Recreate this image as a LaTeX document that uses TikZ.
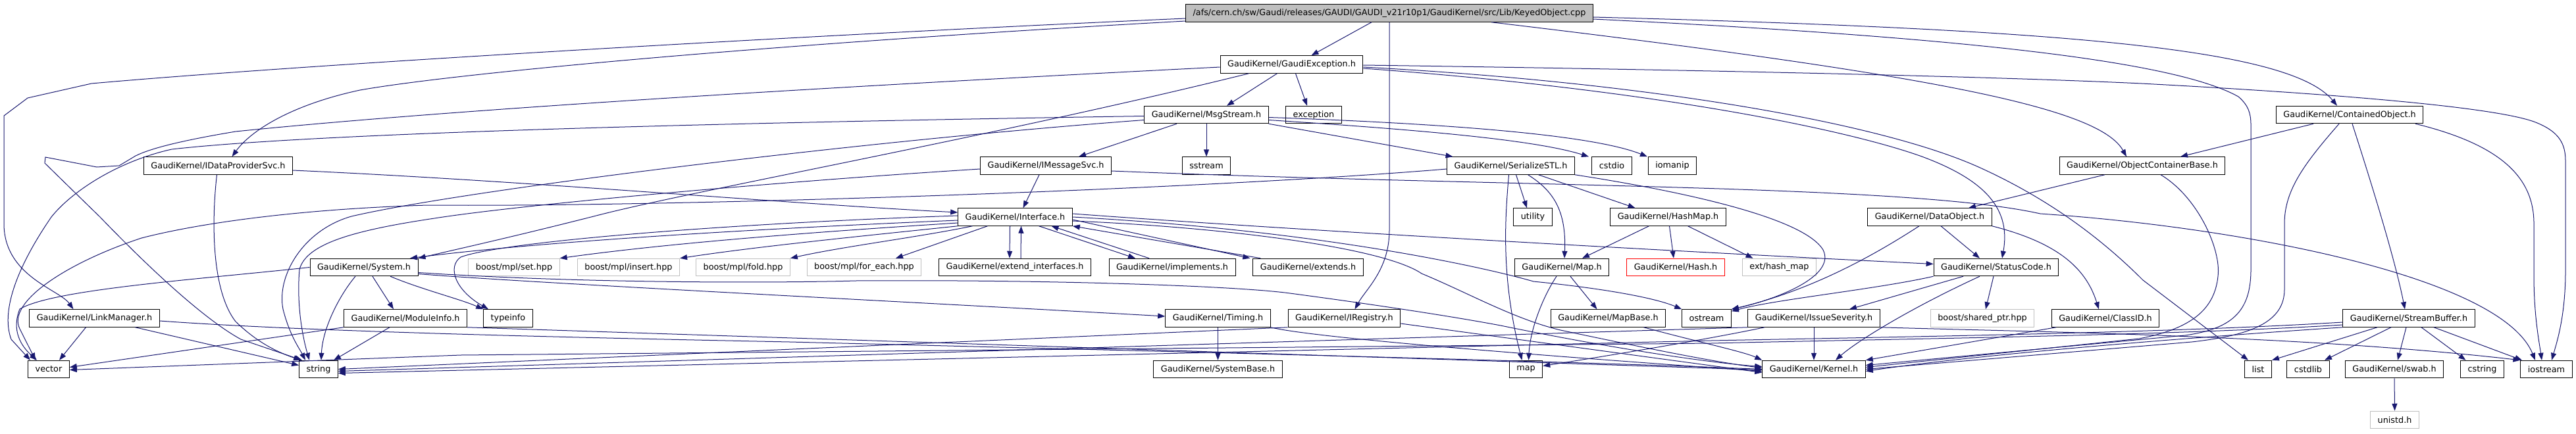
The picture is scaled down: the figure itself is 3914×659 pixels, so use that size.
\documentclass[tikz,border=0pt]{standalone}
\usepackage{fontspec}
\newfontfamily\gfont{DejaVu Sans}
\usetikzlibrary{arrows.meta}
\definecolor{edgec}{HTML}{191970}
\definecolor{grayb}{HTML}{BFBFBF}
\begin{document}
\begin{tikzpicture}[x=1pt,y=-1pt,
  box/.style={draw=black,line width=1pt,fill=white,minimum height=26.5pt,inner xsep=11pt,inner ysep=0pt,font=\gfont\fontsize{12.8}{15}\selectfont},
  ext/.style={box,draw=grayb},
  miss/.style={box,draw=red},
  rootbox/.style={box,fill=grayb},
  conn/.style={draw=edgec,line width=1pt,-{Triangle[length=11pt,width=8pt]}}]
\useasboundingbox (0,0) rectangle (3914,659);
% row A
\node[rootbox] (root) at (2111,20) {/afs/cern.ch/sw/Gaudi/releases/GAUDI/GAUDI\_v21r10p1/GaudiKernel/src/Lib/KeyedObject.cpp};
% row B
\node[box] (gexc) at (1962.5,98) {GaudiKernel/GaudiException.h};
% row C
\node[box] (msgstream) at (1833,174.5) {GaudiKernel/MsgStream.h};
\node[box] (exception) at (1996,174.5) {exception};
\node[box] (contained) at (3570,174.5) {GaudiKernel/ContainedObject.h};
% row D
\node[box] (idp) at (331.5,252) {GaudiKernel/IDataProviderSvc.h};
\node[box] (imsg) at (1589,252) {GaudiKernel/IMessageSvc.h};
\node[box] (sstream) at (1833,252) {sstream};
\node[box] (serialize) at (2295.5,252) {GaudiKernel/SerializeSTL.h};
\node[box] (cstdio) at (2449,252) {cstdio};
\node[box] (iomanip) at (2541,252) {iomanip};
\node[box] (ocb) at (3255,252) {GaudiKernel/ObjectContainerBase.h};
% row E
\node[box] (interface) at (1542.5,330) {GaudiKernel/Interface.h};
\node[box] (utility) at (2329,330) {utility};
\node[box] (hashmap) at (2534.5,330) {GaudiKernel/HashMap.h};
\node[box] (dataobj) at (2932,330) {GaudiKernel/DataObject.h};
% row F
\node[box] (system) at (553,406.5) {GaudiKernel/System.h};
\node[ext] (mplset) at (781,406.5) {boost/mpl/set.hpp};
\node[ext] (mplinsert) at (955,406.5) {boost/mpl/insert.hpp};
\node[ext] (mplfold) at (1129,406.5) {boost/mpl/fold.hpp};
\node[ext] (mplforeach) at (1313,406.5) {boost/mpl/for\_each.hpp};
\node[box] (extif) at (1542,406.5) {GaudiKernel/extend\_interfaces.h};
\node[box] (implements) at (1781,406.5) {GaudiKernel/implements.h};
\node[box] (extends) at (1987.5,406.5) {GaudiKernel/extends.h};
\node[box] (mapH) at (2373,406.5) {GaudiKernel/Map.h};
\node[miss] (hashH) at (2546,406.5) {GaudiKernel/Hash.h};
\node[ext] (hashext) at (2703.5,406.5) {ext/hash\_map};
\node[box] (statuscode) at (3033,406.5) {GaudiKernel/StatusCode.h};
% row G
\node[box] (linkmgr) at (143.5,484) {GaudiKernel/LinkManager.h};
\node[box] (moduleinfo) at (616,484) {GaudiKernel/ModuleInfo.h};
\node[box] (typeinfo) at (772,484) {typeinfo};
\node[box] (timing) at (1850.5,484) {GaudiKernel/Timing.h};
\node[box] (iregistry) at (2042.5,484) {GaudiKernel/IRegistry.h};
\node[box] (mapbase) at (2443.5,484) {GaudiKernel/MapBase.h};
\node[box] (ostream) at (2593,484) {ostream};
\node[box] (issue) at (2756,484) {GaudiKernel/IssueSeverity.h};
\node[ext] (sharedptr) at (3012,484) {boost/shared\_ptr.hpp};
\node[box] (classid) at (3199,484) {GaudiKernel/ClassID.h};
\node[box] (streambuf) at (3660,484) {GaudiKernel/StreamBuffer.h};
% row H
\node[box] (vector) at (74,561.5) {vector};
\node[box] (string) at (484,561.5) {string};
\node[box] (systembase) at (1850.5,561.5) {GaudiKernel/SystemBase.h};
\node[box] (map) at (2318.5,561.5) {map};
\node[box] (kernel) at (2756,561.5) {GaudiKernel/Kernel.h};
\node[box] (list) at (3431,561.5) {list};
\node[box] (cstdlib) at (3507,561.5) {cstdlib};
\node[box] (swab) at (3638,561.5) {GaudiKernel/swab.h};
\node[box] (cstring) at (3771.5,561.5) {cstring};
\node[box] (iostream) at (3869,561.5) {iostream};
% row I
\node[ext] (unistd) at (3638.5,638.5) {unistd.h};

% ---- root
\draw[conn] ([xshift=-27]root.south) -- ([xshift=30]gexc.north);
\draw[conn] (root.south) -- (2111,350) .. controls (2111,410) and (2075,440) .. ([xshift=16]iregistry.north);
\draw[conn] ([xshift=155]root.south) .. controls (2950,115) and (3190,165) .. ([xshift=-24]ocb.north);
\draw[conn] ([yshift=-6]root.east) .. controls (3150,45) and (3480,75) .. ([xshift=-19]contained.north);
\draw[conn] ([yshift=-8]root.west) .. controls (1300,50) and (500,95) .. (139,127) -- (42,149) -- (6,176) -- (6,340) .. controls (6,420) and (90,440) .. ([xshift=-32]linkmgr.north);
\draw[conn] ([yshift=-12]root.west) .. controls (1200,65) and (700,110) .. (547,137) .. controls (440,160) and (380,200) .. ([xshift=21]idp.north);
\draw[conn] ([yshift=-9]root.east) .. controls (2950,55) and (3300,90) .. (3401,147) .. controls (3416,160) and (3420,172) .. (3420,190) -- (3420,410) .. controls (3420,475) and (3390,500) .. (3320,510) -- ([yshift=6]kernel.east);

% ---- GaudiException
\draw[conn] ([xshift=-22]gexc.south) -- ([xshift=31]msgstream.north);
\draw[conn] ([xshift=6]gexc.south) -- ([xshift=-10]exception.north);
\draw[conn] ([yshift=-4]gexc.west) .. controls (1300,130) and (700,165) .. (358,200) .. controls (280,213) and (230,225) .. (206,237) -- (181,252) -- (147,254) -- (69,239) -- (68,248) -- (114,293) -- (152,330) .. controls (200,380) and (300,480) .. (366,516) -- ([xshift=-25]string.north);
\draw[conn] ([xshift=-65]gexc.south) .. controls (1500,210) and (1050,290) .. (902,329) .. controls (780,360) and (690,380) .. (system.north east);
\draw[conn] ([yshift=-1]gexc.east) .. controls (2500,105) and (3000,115) .. (3254,127) .. controls (3500,140) and (3780,160) .. (3850,185) .. controls (3890,200) and (3898,220) .. (3898,245) -- (3898,412) .. controls (3898,480) and (3885,520) .. ([xshift=8]iostream.north);
\draw[conn] ([yshift=-4]gexc.east) .. controls (2500,125) and (2850,185) .. (3004,253) .. controls (3120,305) and (3200,370) .. (3256,426) -- ([xshift=-15]list.north);
\draw[conn] ([yshift=-6]gexc.east) .. controls (2500,135) and (2800,195) .. (2920,238) .. controls (3020,275) and (3055,320) .. ([xshift=9]statuscode.north);

% ---- MsgStream
\draw[conn] ([xshift=-45]msgstream.south) -- ([xshift=50]imsg.north);
\draw[conn] (msgstream.south) -- (sstream.north);
\draw[conn] (msgstream.south east) -- ([xshift=-88]serialize.north);
\draw[conn] ([yshift=-8]msgstream.east) .. controls (2150,197) and (2330,212) .. ([xshift=-35]cstdio.north);
\draw[conn] ([yshift=-4]msgstream.east) .. controls (2200,188) and (2420,205) .. ([xshift=-38]iomanip.north);
\draw[conn] ([yshift=-8]msgstream.west) .. controls (1300,215) and (700,290) .. (534,329) .. controls (460,350) and (420,420) .. (430,470) .. controls (440,510) and (455,530) .. ([xshift=-20]string.north);
\draw[conn] ([yshift=-2]msgstream.west) .. controls (1200,185) and (500,200) .. (261,227) .. controls (180,245) and (110,290) .. (78,330) .. controls (30,400) and (0,470) .. (17,516) -- ([xshift=-28]vector.north);

% ---- IMessageSvc
\draw[conn] ([xshift=-10]imsg.south) -- ([xshift=12]interface.north);
\draw[conn] ([yshift=-5]imsg.west) .. controls (1200,275) and (800,310) .. (660,332) .. controls (540,350) and (465,370) .. (455,410) .. controls (450,470) and (462,520) .. ([xshift=-14]string.north);
\draw[conn] ([yshift=-8]imsg.east) .. controls (2300,285) and (2900,280) .. (3100,325) .. controls (3400,345) and (3800,420) .. ([xshift=-17]iostream.north);

% ---- IDataProviderSvc
\draw[conn] ([yshift=-7]idp.east) .. controls (800,275) and (1200,310) .. ([yshift=7]interface.west);
\draw[conn] ([xshift=-2]idp.south) .. controls (322,330) and (320,440) .. (358,489) .. controls (390,520) and (420,535) .. ([xshift=3]string.north west);

% ---- SerializeSTL
\draw[conn] ([xshift=8]serialize.south) -- ([xshift=-9]utility.north);
\draw[conn] ([xshift=26]serialize.south) .. controls (2360,290) and (2380,320) .. ([xshift=4]mapH.north);
\draw[conn] ([xshift=42]serialize.south) -- ([xshift=-50]hashmap.north);
\draw[conn] ([xshift=-3]serialize.south) .. controls (2287,330) and (2280,420) .. ([xshift=-6]map.north);
\draw[conn] (serialize.south east) .. controls (2550,290) and (2740,330) .. (2770,380) .. controls (2790,420) and (2700,455) .. (ostream.north east);
\draw[conn] ([yshift=-5]serialize.west) .. controls (1800,290) and (1000,315) .. (650,312) .. controls (450,318) and (300,340) .. (215,362) .. controls (100,400) and (10,460) .. (30,500) -- ([xshift=-20]vector.north);

% ---- Interface
\draw[conn] ([yshift=-5]interface.west) .. controls (1100,350) and (800,370) .. ([xshift=70]system.north);
\draw[conn] ([yshift=2]interface.west) .. controls (1100,340) and (760,368) .. (700,391) .. controls (680,405) and (690,440) .. ([xshift=-30]typeinfo.north);
\draw[conn] ([yshift=-9]interface.west) .. controls (1200,355) and (1000,372) .. (mplset.north east);
\draw[conn] (interface.south west) .. controls (1300,360) and (1150,375) .. (mplinsert.north east);
\draw[conn] ([xshift=-65]interface.south) .. controls (1400,360) and (1280,375) .. (mplfold.north east);
\draw[conn] ([xshift=-42]interface.south) -- ([xshift=48]mplforeach.north);
\draw[conn] ([xshift=-8]interface.south) -- ([xshift=-8]extif.north);
\draw[conn] ([xshift=9]extif.north) -- ([xshift=9]interface.south);
\draw[conn] ([xshift=36]interface.south) -- ([xshift=-56]implements.north);
\draw[conn] ([xshift=-35]implements.north) -- ([xshift=55]interface.south);
\draw[conn] ([yshift=-4]interface.east) -- ([xshift=-4]extends.north west);
\draw[conn] ([xshift=12]extends.north west) -- (interface.south east);
\draw[conn] ([yshift=5]interface.east) .. controls (1900,345) and (2400,375) .. ([yshift=5]statuscode.west);
\draw[conn] (interface.east) .. controls (2000,350) and (2250,405) .. (2330,428) .. controls (2450,440) and (2520,455) .. (ostream.north west);
\draw[conn] ([yshift=-6]interface.east) .. controls (1850,345) and (2100,375) .. (2160,416) .. controls (2230,445) and (2300,485) .. (2371,502) .. controls (2480,525) and (2600,550) .. ([yshift=2]kernel.west);

% ---- System
\draw[conn] ([xshift=-13]system.south) .. controls (515,450) and (490,500) .. ([xshift=4]string.north);
\draw[conn] ([xshift=13]system.south) -- ([xshift=-18]moduleinfo.north);
\draw[conn] ([xshift=40]system.south) .. controls (640,440) and (700,455) .. (typeinfo.north west);
\draw[conn] ([yshift=-10]system.east) .. controls (800,430) and (1400,460) .. ([yshift=3]timing.west);
\draw[conn] ([yshift=-8]system.east) .. controls (900,432) and (1200,430) .. (1300,427) .. controls (1600,425) and (1880,435) .. (1960,446) .. controls (2080,462) and (2200,480) .. (2280,495) .. controls (2450,530) and (2600,552) .. ([yshift=4]kernel.west);
\draw[conn] (system.west) .. controls (300,425) and (80,440) .. (30,470) .. controls (20,495) and (25,520) .. ([xshift=-18]vector.north);

% ---- ModuleInfo, LinkManager, Timing, IRegistry
\draw[conn] ([xshift=-24]moduleinfo.south) -- ([xshift=23]string.north);
\draw[conn] (moduleinfo.south west) -- ([yshift=3]vector.east);
\draw[conn] (moduleinfo.south east) -- ([yshift=-1]kernel.west);
\draw[conn] ([xshift=-13]linkmgr.south) -- ([xshift=16]vector.north);
\draw[conn] ([xshift=62]linkmgr.south) -- ([yshift=6]string.west);
\draw[conn] ([yshift=-4]linkmgr.east) .. controls (450,503) and (800,512) .. (1200,520) .. controls (1800,535) and (2400,550) .. ([yshift=0]kernel.west);
\draw[conn] (timing.south) -- (systembase.north);
\draw[conn] (timing.south east) .. controls (2000,515) and (2400,545) .. ([yshift=-3]kernel.west);
\draw[conn] (iregistry.south west) -- (string.east);
\draw[conn] ([yshift=-8]iregistry.east) -- ([yshift=-5]kernel.west);

% ---- Map, MapBase, HashMap
\draw[conn] ([xshift=-8]mapH.south) .. controls (2345,450) and (2325,500) .. ([xshift=4]map.north);
\draw[conn] ([xshift=13]mapH.south) -- ([xshift=-17]mapbase.north);
\draw[conn] ([xshift=54]mapbase.south) .. controls (2580,520) and (2650,535) .. (kernel.north west);
\draw[conn] ([xshift=-29]hashmap.south) -- ([xshift=31]mapH.north);
\draw[conn] ([xshift=2]hashmap.south) -- ([xshift=-3]hashH.north);
\draw[conn] ([xshift=30]hashmap.south) -- ([xshift=-40]hashext.north);

% ---- DataObject, StatusCode
\draw[conn] ([xshift=17]dataobj.south) -- ([xshift=-25]statuscode.north);
\draw[conn] (dataobj.south east) .. controls (3130,370) and (3170,410) .. ([xshift=-10]classid.north);
\draw[conn] ([xshift=-16]dataobj.south) .. controls (2860,380) and (2760,440) .. (ostream.north east);
\draw[conn] ([xshift=-50]statuscode.south) -- ([xshift=54]issue.north);
\draw[conn] ([xshift=-4]statuscode.south) -- ([xshift=5]sharedptr.north);
\draw[conn] ([xshift=-25]statuscode.south) .. controls (2900,470) and (2820,520) .. ([xshift=33]kernel.north);
\draw[conn] (statuscode.south west) .. controls (2850,440) and (2700,455) .. ([yshift=-3]ostream.north east);

% ---- IssueSeverity, ClassID
\draw[conn] (issue.south) -- (kernel.north);
\draw[conn] ([xshift=-75]issue.south) .. controls (2600,515) and (2450,540) .. ([yshift=5]map.east);
\draw[conn] (issue.south west) -- ([yshift=-3]string.east);
\draw[conn] (issue.south east) .. controls (3100,505) and (3500,510) .. (iostream.north west);
\draw[conn] ([xshift=-75]classid.south) -- (kernel.north east);

% ---- StreamBuffer, swab
\draw[conn] ([xshift=-48]streambuf.south) -- (list.north east);
\draw[conn] ([xshift=-27]streambuf.south) -- ([xshift=25]cstdlib.north);
\draw[conn] ([xshift=-4]streambuf.south) -- ([xshift=5]swab.north);
\draw[conn] ([xshift=19]streambuf.south) -- ([xshift=-25]cstring.north);
\draw[conn] ([xshift=38]streambuf.south) -- ([xshift=-37]iostream.north);
\draw[conn] ([yshift=-6]streambuf.west) .. controls (3300,506) and (2900,512) .. (2600,518) -- ([yshift=-6]string.east);
\draw[conn] ([yshift=-10]streambuf.west) .. controls (3300,510) and (2900,515) .. (2600,522) -- (700,540) -- ([yshift=-1]vector.east);
\draw[conn] (streambuf.south west) .. controls (3300,515) and (3000,540) .. ([yshift=-3]kernel.east);
\draw[conn] (swab.south) -- (unistd.north);

% ---- ObjectContainerBase, ContainedObject
\draw[conn] ([xshift=-57]ocb.south) -- ([xshift=59]dataobj.north);
\draw[conn] ([xshift=28]ocb.south) .. controls (3340,300) and (3375,380) .. (3370,420) .. controls (3365,470) and (3330,500) .. (3250,515) -- ([yshift=3]kernel.east);
\draw[conn] ([xshift=-55]contained.south) -- ([xshift=58]ocb.north);
\draw[conn] ([xshift=4]contained.south) .. controls (3610,300) and (3640,400) .. ([xshift=-6]streambuf.north);
\draw[conn] ([xshift=100]contained.south) .. controls (3800,220) and (3850,270) .. (3850,340) -- (3850,420) .. controls (3850,480) and (3858,520) .. ([xshift=-7]iostream.north);
\draw[conn] ([xshift=-16]contained.south) .. controls (3500,250) and (3471,290) .. (3471,340) -- (3471,440) .. controls (3471,490) and (3420,510) .. (3330,520) -- (kernel.east);
\end{tikzpicture}
\end{document}
